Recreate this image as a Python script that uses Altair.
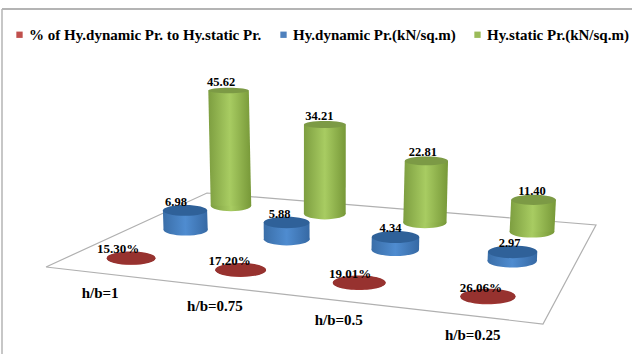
import altair as alt
import numpy as np
import pandas as pd

# Chart values
categories = ["h/b=1", "h/b=0.75", "h/b=0.5", "h/b=0.25"]
series_names = ["% of Hy.dynamic Pr. to Hy.static Pr.", "Hy.dynamic Pr.(kN/sq.m)", "Hy.static Pr.(kN/sq.m)"]
percent_ratio = [0.1530, 0.1720, 0.1901, 0.2606]
hydrodynamic = [6.98, 5.88, 4.34, 2.97]
hydrostatic = [45.62, 34.21, 22.81, 11.40]

# Colours per series
legend_colors = ["#c0504d", "#4f81bd", "#9bbb59"]
top_colors = ["#97322f", "#2f6199", "#7c9a45"]
body_stops = [
    ["#8f2f2c", "#a83b38", "#8f2f2c"],
    ["#3a6ea8", "#4f8cd0", "#3669a4"],
    ["#7d9e40", "#a8cc62", "#779838"],
]

# Oblique view of the floor: unit square corners to canvas points
FLOOR = [(46, 267), (543, 324), (596, 225), (207, 193)]
UNIT = [(0, 0), (1, 0), (1, 1), (0, 1)]
rows, rhs = [], []
for (u, v), (px, py) in zip(UNIT, FLOOR):
    rows.append([u, v, 1, 0, 0, 0, -u * px, -v * px]); rhs.append(px)
    rows.append([0, 0, 0, u, v, 1, -u * py, -v * py]); rhs.append(py)
H = np.append(np.linalg.solve(np.array(rows, float), np.array(rhs, float)), 1).reshape(3, 3)

RADIUS = 25.0         # cylinder radius at unit depth
HEIGHT_SCALE = 3.12   # canvas units per unit of value at unit depth
LEAN = 0.000234       # convergence of the uprights toward the view centre
VIEW_CENTER = 321


def ellipse_path(ratio):
    return f"M-1,0A1,{ratio:.3f} 0 1 1 1,0A1,{ratio:.3f} 0 1 1 -1,0Z"


records = []
for j, values in enumerate([percent_ratio, hydrodynamic, hydrostatic]):
    for i, val in enumerate(values):
        u, v = (i + 0.52) / 4 - 0.004 * j, 0.157 + 0.345 * j
        bx, by, w = H @ np.array([u, v, 1.0])
        bx, by = bx / w, by / w
        h = HEIGHT_SCALE * val / w
        tx, ty = bx + LEAN * (bx - VIEW_CENTER) * h, by - h
        rx = RADIUS / w
        records.append(dict(
            series=j, cat=i, value=val, base_x=bx, base_y=by, top_x=tx, top_y=ty, rx=rx,
            size=(2 * rx) ** 2,
            base_shape=ellipse_path(0.265),
            top_shape=ellipse_path(0.265 - 0.0028 * val),
            label_x=tx - ([13, 9, 7.5][j] - 2 * i),
            label_y=ty - 8.5,
        ))
table = pd.DataFrame(records)

no_size = alt.Size("size:Q", scale=None)


def xy(xf, yf):
    return dict(
        x=alt.X(f"{xf}:Q", scale=alt.Scale(domain=[0, 632], range=[0, 632]), axis=None),
        y=alt.Y(f"{yf}:Q", scale=alt.Scale(domain=[0, 354], range=[0, 354]), axis=None),
    )


layers = []

# Page frame
layers.append(alt.Chart(pd.DataFrame({"a": [0]})).mark_rule(color="#b4b4b4", strokeWidth=2).encode(
    x=alt.value(2), x2=alt.value(632), y=alt.value(9)))
layers.append(alt.Chart(pd.DataFrame({"a": [0]})).mark_rule(color="#b4b4b4", strokeWidth=1.5).encode(
    x=alt.value(2), y=alt.value(9), y2=alt.value(354)))

# Floor outline
floor = pd.DataFrame({"fx": [p[0] for p in FLOOR + FLOOR[:1]],
                      "fy": [p[1] for p in FLOOR + FLOOR[:1]],
                      "k": range(5)})
layers.append(alt.Chart(floor).mark_line(color="#b0b0b0", strokeWidth=1.2).encode(
    order="k:Q", **xy("fx", "fy")))

# Cylinders, far row first
for j in [2, 1, 0]:
    part = table[table.series == j]
    grad = alt.LinearGradient(
        gradient="linear", x1=0, x2=1, y1=0, y2=0,
        stops=[alt.GradientStop(color=body_stops[j][0], offset=0),
               alt.GradientStop(color=body_stops[j][1], offset=0.5),
               alt.GradientStop(color=body_stops[j][2], offset=1)])
    body = pd.concat([
        pd.DataFrame({"cat": part.cat, "cx": part.base_x, "cy": part.base_y, "rx": part.rx}),
        pd.DataFrame({"cat": part.cat, "cx": part.top_x, "cy": part.top_y, "rx": part.rx}),
    ])
    body["left"] = body.cx - body.rx
    body["right"] = body.cx + body.rx

    layers.append(alt.Chart(part).mark_point(filled=True, fill=grad, opacity=1, strokeWidth=0).encode(
        shape=alt.Shape("base_shape:N", scale=None), size=no_size, **xy("base_x", "base_y")))
    layers.append(alt.Chart(body).mark_area(orient="horizontal", fill=grad, opacity=1).encode(
        x=alt.X("left:Q", scale=alt.Scale(domain=[0, 632], range=[0, 632]), axis=None, stack=None),
        x2="right:Q",
        y=alt.Y("cy:Q", scale=alt.Scale(domain=[0, 354], range=[0, 354]), axis=None),
        detail="cat:N"))
    layers.append(alt.Chart(part).mark_point(filled=True, fill=top_colors[j], opacity=1, strokeWidth=0).encode(
        shape=alt.Shape("top_shape:N", scale=None), size=no_size, **xy("top_x", "top_y")))

# Value labels
layers.append(alt.Chart(table[table.series == 0]).mark_text(
    font="Liberation Serif", fontWeight="bold", fontSize=13, color="#000000").encode(
    text=alt.Text("value:Q", format=".2%"), **xy("label_x", "label_y")))
layers.append(alt.Chart(table[table.series > 0]).mark_text(
    font="Liberation Serif", fontWeight="bold", fontSize=12.5, color="#000000").encode(
    text=alt.Text("value:Q", format=".2f"), **xy("label_x", "label_y")))

# Category labels sit below the front row
front = table[table.series == 0]
cat_labels = pd.DataFrame({
    "name": categories,
    "lx": front.base_x.values - 31 + 5.3 * front["cat"].values,
    "ly": front.base_y.values + 35 + front["cat"].values,
})
layers.append(alt.Chart(cat_labels).mark_text(
    font="Liberation Serif", fontWeight="bold", fontSize=15, color="#000000").encode(
    text="name:N", **xy("lx", "ly")))

# Legend carrier: zero-sized marks that only feed the colour legend
legend_frame = pd.DataFrame({"series": series_names})
layers.append(alt.Chart(legend_frame).mark_square(size=0).encode(
    x=alt.value(0), y=alt.value(0),
    color=alt.Color("series:N",
                    scale=alt.Scale(domain=series_names, range=legend_colors),
                    legend=alt.Legend(
                        title=None, orient="none", legendX=12, legendY=27, direction="horizontal",
                        symbolType="square", symbolSize=40, symbolOpacity=1, symbolStrokeWidth=0,
                        labelFont="Liberation Serif", labelFontWeight="bold", labelFontSize=15,
                        labelColor="#000000", labelLimit=300, columnPadding=14, labelOffset=2,
                        columns=3))))

chart = alt.layer(*layers).properties(
    width=632, height=354, padding=0, autosize=alt.AutoSizeParams(type="none"),
    background="white",
).configure_view(stroke=None)

chart.save("out.html", embed_options={"renderer": "svg", "actions": False})
